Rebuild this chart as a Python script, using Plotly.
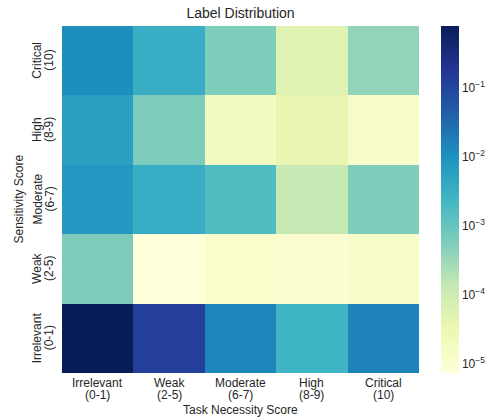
import numpy as np
import plotly.graph_objects as go

task_labels = ["Irrelevant", "Weak", "Moderate", "High", "Critical"]
task_ranges = ["(0-1)", "(2-5)", "(6-7)", "(8-9)", "(10)"]
sens_labels = ["Irrelevant", "Weak", "Moderate", "High", "Critical"]
sens_ranges = ["(0-1)", "(2-5)", "(6-7)", "(8-9)", "(10)"]

# rows: sensitivity (bottom to top), columns: task necessity
row_irrelevant = [0.80, 0.125, 0.014, 0.0025, 0.0155]
row_weak = [6.0e-4, 7.4e-6, 1.2e-5, 1.05e-5, 1.3e-5]
row_moderate = [7.8e-3, 3.5e-3, 1.7e-3, 1.35e-4, 5.7e-4]
row_high = [6.0e-3, 6.0e-4, 1.9e-5, 3.7e-5, 1.3e-5]
row_critical = [0.011, 3.5e-3, 5.7e-4, 5.2e-5, 4.0e-4]

cbar_tickvals = [-5, -4, -3, -2, -1]
cbar_ticktext = ["10<sup>\u22125</sup>", "10<sup>\u22124</sup>", "10<sup>\u22123</sup>",
                 "10<sup>\u22122</sup>", "10<sup>\u22121</sup>"]

values = np.array([row_irrelevant, row_weak, row_moderate, row_high, row_critical])
z = np.log10(values)

ylgnbu = ["#ffffd9", "#edf8b1", "#c7e9b4", "#7fcdbb", "#41b6c4",
          "#1d91c0", "#225ea8", "#253494", "#081d58"]
colorscale = [[i / 8, c] for i, c in enumerate(ylgnbu)]

txt = "#262626"
font_family = "Liberation Sans, Arial, sans-serif"

fig = go.Figure(go.Heatmap(
    z=z, x=task_labels, y=sens_labels,
    colorscale=colorscale,
    zmin=float(z.min()), zmax=float(z.max()),
    colorbar=dict(
        tickvals=cbar_tickvals, ticktext=cbar_ticktext,
        thickness=18, len=1.0, lenmode="fraction",
        x=1.061, xanchor="left", y=0.5, yanchor="middle",
        outlinewidth=0, ticks="", ticklen=0,
        tickfont=dict(size=12, color=txt, family=font_family),
        xpad=0, ypad=0,
    ),
))

annotations = []
for lab, rng in zip(task_labels, task_ranges):
    annotations.append(dict(text=lab, x=lab, xref="x", y=0, yref="paper",
                            yanchor="middle", yshift=-10, showarrow=False,
                            font=dict(size=12, color=txt)))
    annotations.append(dict(text=rng, x=lab, xref="x", y=0, yref="paper",
                            yanchor="middle", yshift=-22, showarrow=False,
                            font=dict(size=12, color=txt)))
for lab, rng in zip(sens_labels, sens_ranges):
    annotations.append(dict(text=lab, y=lab, yref="y", x=0, xref="paper",
                            xanchor="center", xshift=-25, textangle=-90,
                            showarrow=False, font=dict(size=12, color=txt)))
    annotations.append(dict(text=rng, y=lab, yref="y", x=0, xref="paper",
                            xanchor="center", xshift=-13, textangle=-90,
                            showarrow=False, font=dict(size=12, color=txt)))
annotations.append(dict(text="Task Necessity Score", x=0.5, xref="paper", y=0, yref="paper",
                        yanchor="middle", yshift=-37, showarrow=False,
                        font=dict(size=12, color=txt)))
annotations.append(dict(text="Sensitivity Score", y=0.5, yref="paper", x=0, xref="paper",
                        xanchor="center", xshift=-44, textangle=-90, showarrow=False,
                        font=dict(size=12, color=txt)))

fig.update_layout(
    width=494, height=419,
    margin=dict(l=62, r=72, t=26, b=46),
    paper_bgcolor="white", plot_bgcolor="white",
    font=dict(family=font_family, color=txt, size=12),
    title=dict(text="Label Distribution", x=0.5, xref="paper",
               y=1 - 13 / 419, yanchor="middle", yref="container",
               font=dict(size=14, color=txt)),
    xaxis=dict(showgrid=False, zeroline=False, ticks="", showticklabels=False,
               showline=False),
    yaxis=dict(showgrid=False, zeroline=False, ticks="", showticklabels=False,
               showline=False),
    annotations=annotations,
)

fig.write_html("out.html", config={"displayModeBar": False},
               post_script="document.body.style.margin='0';")
